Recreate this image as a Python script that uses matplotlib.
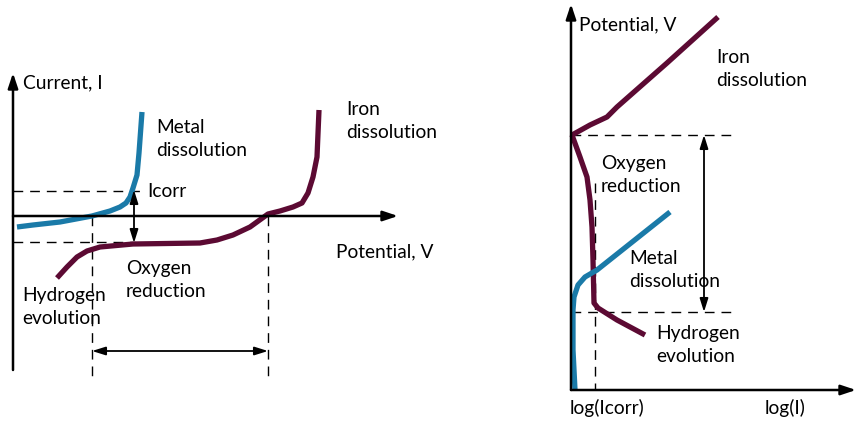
import matplotlib.pyplot as plt

plt.rcParams['font.family'] = ['Lato', 'DejaVu Sans']

blue = '#1a7aa8'
maroon = '#5c0a33'

# left panel: current vs potential (pixel coordinates of the sketch)
metal_x = [17, 33, 60, 92, 110, 120, 126, 130, 133, 137, 139, 142]
metal_y = [227, 225, 222, 216, 211, 207, 203, 197, 188, 175, 153, 112]
ox_x = [57, 67, 77, 87, 100, 133, 200, 217, 233, 250, 268, 280, 293, 302, 308, 313, 317, 319]
ox_y = [278, 267, 257, 251, 247, 244, 243, 240, 235, 227, 214, 211, 207, 203, 193, 177, 157, 110]

# right panel: potential vs log(I)
iron_x = [718, 667, 617, 607, 590, 572]
iron_y = [17, 63, 107, 117, 125, 135]
ox2_x = [572, 580, 587, 590, 592, 593, 594, 598, 617, 645]
ox2_y = [135, 157, 177, 200, 227, 260, 303, 308, 320, 335]
metal2_x = [575, 573, 573, 573, 574, 578, 585, 597, 670]
metal2_y = [390, 350, 320, 310, 297, 285, 277, 270, 212]

fig = plt.figure(figsize=(8.57, 4.28), dpi=100)
ax = fig.add_axes([0, 0, 1, 1])
ax.set_xlim(0, 857)
ax.set_ylim(428, 0)
ax.axis('off')

axis_arrow = dict(arrowstyle='-|>,head_length=0.9,head_width=0.3', color='black', lw=1.8,
                  shrinkA=0, shrinkB=0)
thin_arrow = dict(arrowstyle='<|-|>,head_length=0.8,head_width=0.25', color='black', lw=1.3,
                  shrinkA=0, shrinkB=0)
dash = dict(color='black', lw=1.0, ls=(0, (7, 5)))
curve = dict(lw=3.8, solid_capstyle='butt', solid_joinstyle='round')
fs = 13.8
ls = 1.45

# ---- left panel ----
ax.annotate('', xy=(13, 73), xytext=(13, 370), arrowprops=axis_arrow)
ax.annotate('', xy=(398, 216), xytext=(13, 216), arrowprops=axis_arrow)
ax.plot([13, 142], [191, 191], **dash)
ax.plot([13, 135], [242, 242], **dash)
ax.plot([92, 92], [216, 382], **dash)
ax.plot([268, 268], [216, 382], **dash)
ax.annotate('', xy=(134, 190), xytext=(134, 243), arrowprops=thin_arrow)
ax.annotate('', xy=(92, 351), xytext=(268, 351), arrowprops=thin_arrow)
ax.plot(metal_x, metal_y, color=blue, **curve)
ax.plot(ox_x, ox_y, color=maroon, **curve)

ax.text(23, 83, 'Current, I', fontsize=fs, va='center')
ax.text(147, 191, 'Icorr', fontsize=fs, va='center')
ax.text(156, 139, 'Metal\ndissolution', fontsize=fs, va='center', linespacing=ls)
ax.text(346, 121, 'Iron\ndissolution', fontsize=fs, va='center', linespacing=ls)
ax.text(336, 252, 'Potential, V', fontsize=fs, va='center')
ax.text(126, 280, 'Oxygen\nreduction', fontsize=fs, va='center', linespacing=ls)
ax.text(22, 307, 'Hydrogen\nevolution', fontsize=fs, va='center', linespacing=ls)

# ---- right panel ----
ax.annotate('', xy=(571, 4), xytext=(571, 390), arrowprops=axis_arrow)
ax.annotate('', xy=(856, 390), xytext=(571, 390), arrowprops=axis_arrow)
ax.plot([571, 736], [135, 135], **dash)
ax.plot([571, 736], [312, 312], **dash)
ax.plot([595, 595], [183, 390], **dash)
ax.annotate('', xy=(704, 135), xytext=(704, 312), arrowprops=thin_arrow)
ax.plot(iron_x, iron_y, color=maroon, **curve)
ax.plot(ox2_x, ox2_y, color=maroon, **curve)
ax.plot(metal2_x, metal2_y, color=blue, **curve)

ax.text(579, 25, 'Potential, V', fontsize=fs, va='center')
ax.text(716, 69, 'Iron\ndissolution', fontsize=fs, va='center', linespacing=ls)
ax.text(601, 175, 'Oxygen\nreduction', fontsize=fs, va='center', linespacing=ls)
ax.text(629, 270, 'Metal\ndissolution', fontsize=fs, va='center', linespacing=ls)
ax.text(656, 345, 'Hydrogen\nevolution', fontsize=fs, va='center', linespacing=ls)
ax.text(607, 408, 'log(Icorr)', fontsize=fs, va='center', ha='center')
ax.text(785, 408, 'log(I)', fontsize=fs, va='center', ha='center')

fig.savefig('out.png', dpi=100, facecolor='white')
